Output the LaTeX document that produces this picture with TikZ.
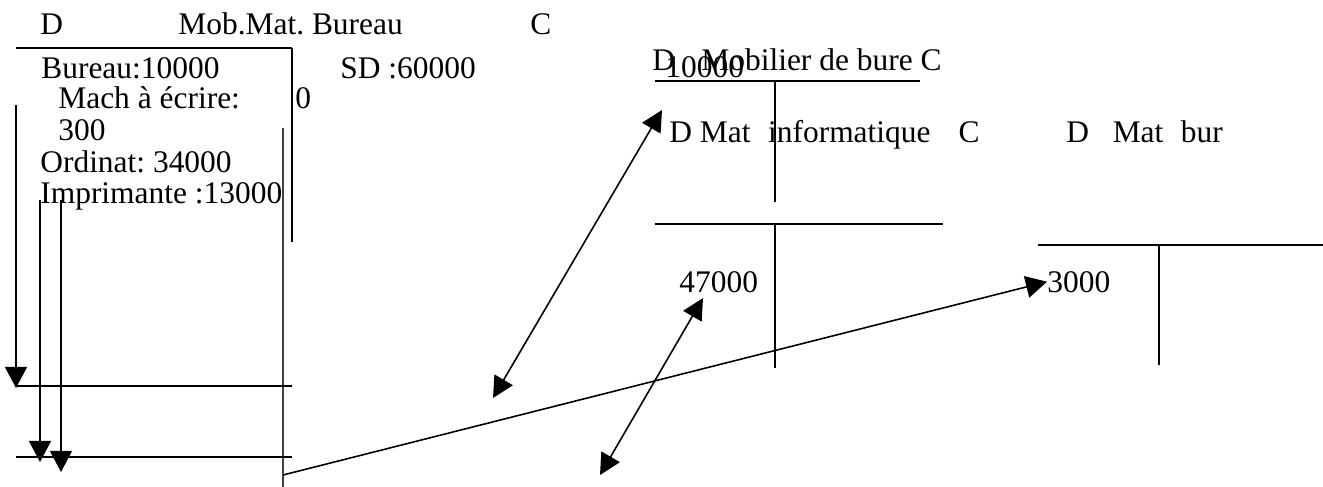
\documentclass[tikz,border=0pt]{standalone}
\usepackage{fontspec}
\setmainfont{Liberation Serif}
\usetikzlibrary{arrows.meta}
\frenchspacing

\begin{document}
\begin{tikzpicture}[x=0.02cm,y=-0.02cm,
  every node/.style={font=\fontsize{17.9}{21}\selectfont},
  lbl/.style={anchor=base west,inner sep=0pt},
  tline/.style={line width=0.6pt},
  tbar/.style={line width=1.1pt},
  flow/.style={line width=0.9pt,-{Triangle[length=12pt,width=12.5pt]}},
  dflow/.style={line width=0.9pt,{Triangle[length=12pt,width=12pt]}-{Triangle[length=12pt,width=12pt]}}]
  \useasboundingbox (0,0) rectangle (1323,487);

  %% Account Mob.Mat. Bureau
  \node[lbl] (mbD) at (40,34) {D};
  \node[lbl] (mbTitle) at (178,34) {Mob.Mat. Bureau};
  \node[lbl] (mbC) at (530,34) {C};
  \draw[tbar] (16,48) -- (292,48);
  \draw[tline] (292,48) -- (292,242);
  \node[lbl] (bureau) at (41,78) {Bureau:10000};
  \node[lbl] (sd) at (340,78) {SD :60000};
  \node[lbl] (mach) at (58,108) {Mach à écrire:};
  \node[lbl] (zero) at (295,108) {0};
  \node[lbl] (mach300) at (58,140) {300};
  \node[lbl] (ordinat) at (40,172) {Ordinat: 34000};
  \node[lbl] (imprim) at (40,203) {Imprimante :13000};
  \draw[line width=1.2pt,black!75] (283,128) -- (283,487);
  \draw[tline] (16,386) -- (292,386);
  \draw[tline] (16,457) -- (292,457);

  %% Account Mobilier de bureau
  \node[lbl] (mobTitle) at (652,70) {D\hspace{15pt}Mobilier de bure C};
  \node[lbl] (mob10000) at (665,77) {10000};
  \draw[tbar] (655,81) -- (920,81);
  \draw[tline] (775,81) -- (775,202);

  %% Account Mat informatique
  \node[lbl] (infTitle) at (669,142) {D Mat\hspace{10pt}informatique\hspace{16pt}C};
  \draw[tline] (655,224) -- (943,224);
  \draw[tline] (775,224) -- (775,368);
  \node[lbl] (inf47000) at (679,292) {47000};

  %% Account Mat bur
  \node[lbl] (burTitle) at (1066,142) {D\hspace{13.5pt}Mat\hspace{10pt}bur};
  \draw[tline] (1038,245) -- (1323,245);
  \draw[tline] (1159,245) -- (1159,365);
  \node[lbl] (bur3000) at (1047,292) {3000};

  %% arrows
  \coordinate (downAs) at (16,105);
  \coordinate (downAe) at (16,388);
  \coordinate (downBs) at (40,200);
  \coordinate (downBe) at (40,462);
  \coordinate (downCs) at (61,200);
  \coordinate (downCe) at (61,472);
  \draw[flow] (downAs) -- (downAe);
  \draw[flow] (downBs) -- (downBe);
  \draw[flow] (downCs) -- (downCe);

  \coordinate (mobLow) at (493,398);
  \coordinate (mobHigh) at (662,110);
  \draw[dflow] (mobLow) -- (mobHigh);
  \coordinate (infLow) at (600,475);
  \coordinate (infHigh) at (703,298);
  \draw[dflow] (infLow) -- (infHigh);

  \coordinate (soldeStart) at (283,475);
  \draw[flow] (soldeStart) -- (bur3000.west);
\end{tikzpicture}
\end{document}
